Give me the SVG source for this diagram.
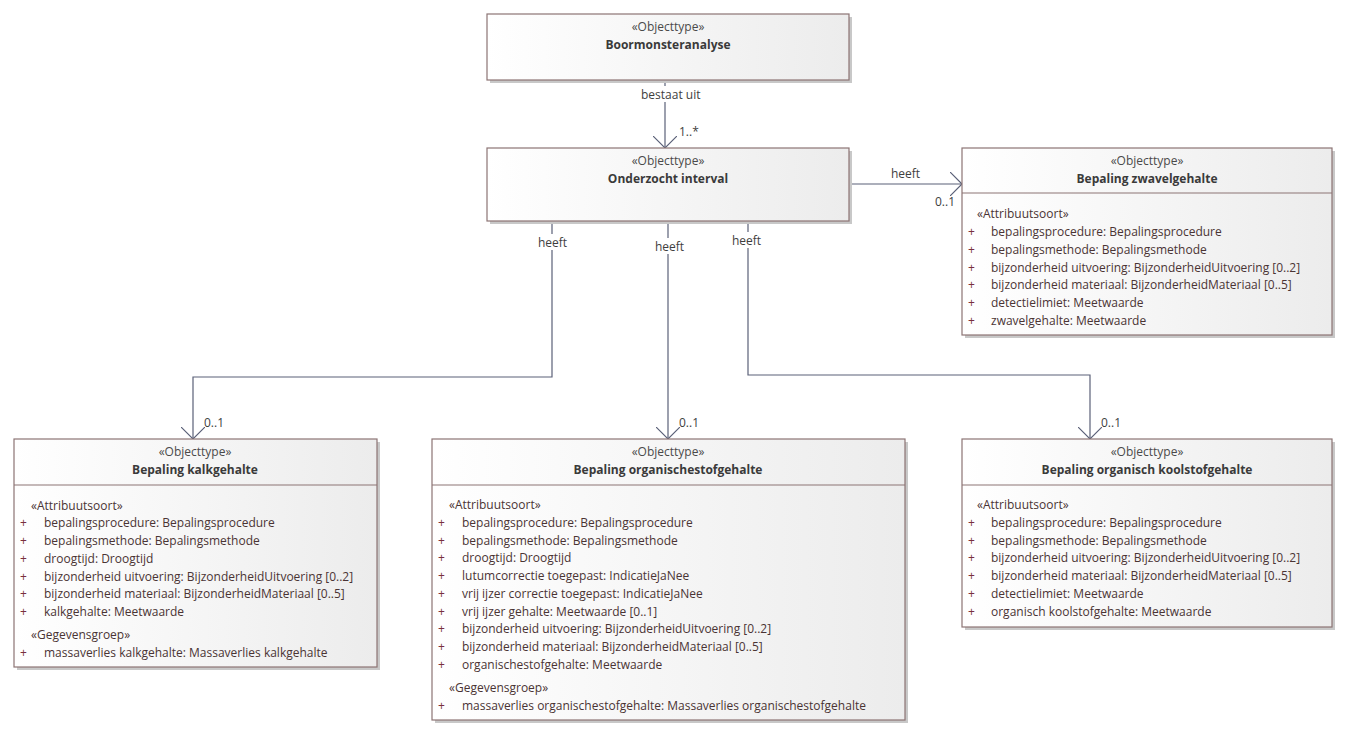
<svg xmlns="http://www.w3.org/2000/svg" width="1349" height="737" viewBox="0 0 1349 737">
<defs>
<linearGradient id="g" x1="0" y1="0" x2="1" y2="0">
<stop offset="0" stop-color="#ffffff"/>
<stop offset="1" stop-color="#ececec"/>
</linearGradient>
<marker id="arr" markerWidth="14" markerHeight="24" refX="12" refY="12" orient="auto" markerUnits="userSpaceOnUse">
<path d="M0,0 L12,12 L0,24" fill="none" stroke="#5b6178" stroke-width="1.2"/>
</marker>
</defs>
<style>
text{font-family:"Open Sans","Liberation Sans",sans-serif;font-size:12px;fill:#4a3434;dominant-baseline:central}
.st{text-anchor:middle;fill:#4a4a4a}
.ti{text-anchor:middle;font-weight:bold;fill:#3a3a3a}
.box{fill:url(#g);stroke:#8c7474;stroke-width:1.2}
.sh{fill:#c8c8c8}
.div{stroke:#8c7474;stroke-width:1.2}
.pl{fill:#7a2f3f}
.con{fill:none;stroke:#5b6178;stroke-width:1.2}
.lb{fill:#ffffff}
.cl{fill:#3e3e3e;font-size:12px}
</style>

<g id="connectors">
<path class="con" d="M665,80 V148" marker-end="url(#arr)"/>
<rect class="lb" x="638" y="86" width="54" height="16"/>
<text class="cl" x="641" y="94">bestaat uit</text>
<text class="cl" x="679" y="131">1..*</text>

<path class="con" d="M849,184 H962" marker-end="url(#arr)"/>
<text class="cl" x="891" y="173">heeft</text>
<text class="cl" x="935" y="201">0..1</text>

<path class="con" d="M552,221 V377 H193 V439" marker-end="url(#arr)"/>
<rect class="lb" x="536" y="234" width="34" height="16"/>
<text class="cl" x="538" y="242">heeft</text>
<text class="cl" x="204" y="422">0..1</text>

<path class="con" d="M668,221 V439" marker-end="url(#arr)"/>
<rect class="lb" x="652" y="238" width="34" height="16"/>
<text class="cl" x="655" y="246">heeft</text>
<text class="cl" x="679" y="422">0..1</text>

<path class="con" d="M748,221 V375 H1090 V439" marker-end="url(#arr)"/>
<rect class="lb" x="730" y="232" width="34" height="16"/>
<text class="cl" x="732" y="240">heeft</text>
<text class="cl" x="1101" y="422">0..1</text>
</g>

<g id="boormonsteranalyse">
<rect class="sh" x="490" y="17" width="362" height="66"/>
<rect class="box" x="487" y="14" width="362" height="66"/>
<text class="st" x="668" y="26">«Objecttype»</text>
<text class="ti" x="668" y="44">Boormonsteranalyse</text>
</g>

<g id="onderzocht-interval">
<rect class="sh" x="490" y="151" width="362" height="73"/>
<rect class="box" x="487" y="148" width="362" height="73"/>
<text class="st" x="668" y="160">«Objecttype»</text>
<text class="ti" x="668" y="178">Onderzocht interval</text>
</g>

<g id="bepaling-zwavelgehalte">
<rect class="sh" x="965" y="151" width="370" height="187"/>
<rect class="box" x="962" y="148" width="370" height="187"/>
<line class="div" x1="962" y1="193" x2="1332" y2="193"/>
<text class="st" x="1147" y="160">«Objecttype»</text>
<text class="ti" x="1147" y="178">Bepaling zwavelgehalte</text>
<text x="977" y="213">«Attribuutsoort»</text>
<text class="pl" x="968" y="231">+</text><text x="991" y="231">bepalingsprocedure: Bepalingsprocedure</text>
<text class="pl" x="968" y="249">+</text><text x="991" y="249">bepalingsmethode: Bepalingsmethode</text>
<text class="pl" x="968" y="267">+</text><text x="991" y="267">bijzonderheid uitvoering: BijzonderheidUitvoering [0..2]</text>
<text class="pl" x="968" y="284">+</text><text x="991" y="284">bijzonderheid materiaal: BijzonderheidMateriaal [0..5]</text>
<text class="pl" x="968" y="302">+</text><text x="991" y="302">detectielimiet: Meetwaarde</text>
<text class="pl" x="968" y="320">+</text><text x="991" y="320">zwavelgehalte: Meetwaarde</text>
</g>

<g id="bepaling-kalkgehalte">
<rect class="sh" x="17" y="442" width="363" height="228"/>
<rect class="box" x="14" y="439" width="363" height="228"/>
<line class="div" x1="14" y1="485" x2="377" y2="485"/>
<text class="st" x="195" y="451">«Objecttype»</text>
<text class="ti" x="195" y="469">Bepaling kalkgehalte</text>
<text x="31" y="505">«Attribuutsoort»</text>
<text class="pl" x="20" y="522">+</text><text x="44" y="522">bepalingsprocedure: Bepalingsprocedure</text>
<text class="pl" x="20" y="540">+</text><text x="44" y="540">bepalingsmethode: Bepalingsmethode</text>
<text class="pl" x="20" y="558">+</text><text x="44" y="558">droogtijd: Droogtijd</text>
<text class="pl" x="20" y="576">+</text><text x="44" y="576">bijzonderheid uitvoering: BijzonderheidUitvoering [0..2]</text>
<text class="pl" x="20" y="593">+</text><text x="44" y="593">bijzonderheid materiaal: BijzonderheidMateriaal [0..5]</text>
<text class="pl" x="20" y="611">+</text><text x="44" y="611">kalkgehalte: Meetwaarde</text>
<text x="31" y="634">«Gegevensgroep»</text>
<text class="pl" x="20" y="652">+</text><text x="44" y="652">massaverlies kalkgehalte: Massaverlies kalkgehalte</text>
</g>

<g id="bepaling-organischestofgehalte">
<rect class="sh" x="435" y="442" width="473" height="281"/>
<rect class="box" x="432" y="439" width="473" height="281"/>
<line class="div" x1="432" y1="485" x2="905" y2="485"/>
<text class="st" x="668" y="451">«Objecttype»</text>
<text class="ti" x="668" y="469">Bepaling organischestofgehalte</text>
<text x="449" y="504">«Attribuutsoort»</text>
<text class="pl" x="438" y="522">+</text><text x="462" y="522">bepalingsprocedure: Bepalingsprocedure</text>
<text class="pl" x="438" y="540">+</text><text x="462" y="540">bepalingsmethode: Bepalingsmethode</text>
<text class="pl" x="438" y="557">+</text><text x="462" y="557">droogtijd: Droogtijd</text>
<text class="pl" x="438" y="575">+</text><text x="462" y="575">lutumcorrectie toegepast: IndicatieJaNee</text>
<text class="pl" x="438" y="593">+</text><text x="462" y="593">vrij ijzer correctie toegepast: IndicatieJaNee</text>
<text class="pl" x="438" y="611">+</text><text x="462" y="611">vrij ijzer gehalte: Meetwaarde [0..1]</text>
<text class="pl" x="438" y="628">+</text><text x="462" y="628">bijzonderheid uitvoering: BijzonderheidUitvoering [0..2]</text>
<text class="pl" x="438" y="646">+</text><text x="462" y="646">bijzonderheid materiaal: BijzonderheidMateriaal [0..5]</text>
<text class="pl" x="438" y="664">+</text><text x="462" y="664">organischestofgehalte: Meetwaarde</text>
<text x="449" y="687">«Gegevensgroep»</text>
<text class="pl" x="438" y="705">+</text><text x="462" y="705">massaverlies organischestofgehalte: Massaverlies organischestofgehalte</text>
</g>

<g id="bepaling-organisch-koolstofgehalte">
<rect class="sh" x="965" y="442" width="370" height="188"/>
<rect class="box" x="962" y="439" width="370" height="188"/>
<line class="div" x1="962" y1="485" x2="1332" y2="485"/>
<text class="st" x="1147" y="451">«Objecttype»</text>
<text class="ti" x="1147" y="469">Bepaling organisch koolstofgehalte</text>
<text x="977" y="504">«Attribuutsoort»</text>
<text class="pl" x="968" y="522">+</text><text x="991" y="522">bepalingsprocedure: Bepalingsprocedure</text>
<text class="pl" x="968" y="540">+</text><text x="991" y="540">bepalingsmethode: Bepalingsmethode</text>
<text class="pl" x="968" y="557">+</text><text x="991" y="557">bijzonderheid uitvoering: BijzonderheidUitvoering [0..2]</text>
<text class="pl" x="968" y="575">+</text><text x="991" y="575">bijzonderheid materiaal: BijzonderheidMateriaal [0..5]</text>
<text class="pl" x="968" y="593">+</text><text x="991" y="593">detectielimiet: Meetwaarde</text>
<text class="pl" x="968" y="611">+</text><text x="991" y="611">organisch koolstofgehalte: Meetwaarde</text>
</g>
</svg>
